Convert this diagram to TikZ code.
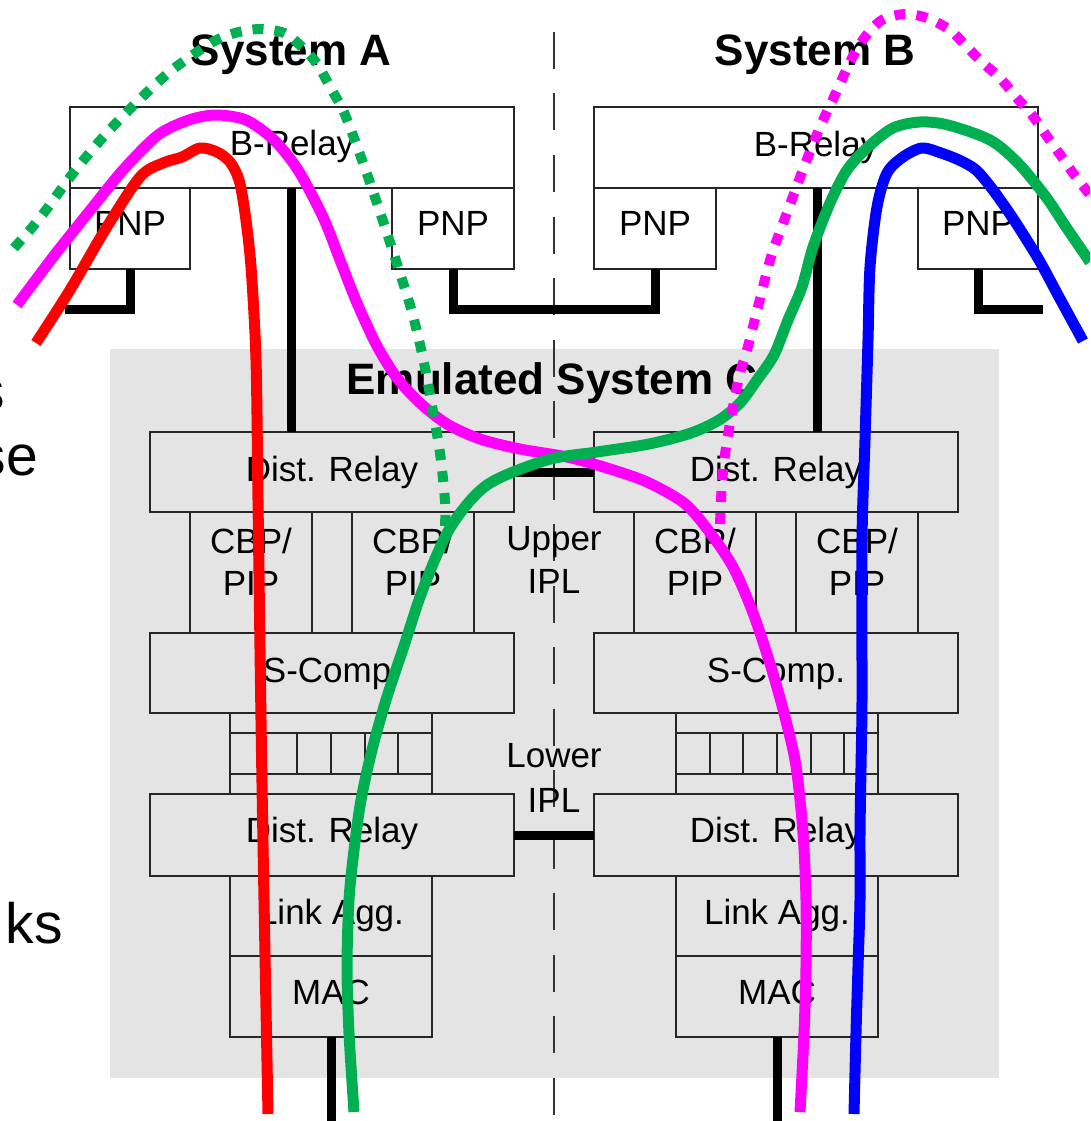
\documentclass[tikz,border=0pt]{standalone}
\usepackage{fontspec}
\setmainfont{Liberation Sans}
\definecolor{bggray}{RGB}{228,228,228}
\definecolor{pgreen}{RGB}{0,176,80}
\definecolor{pmag}{RGB}{255,0,255}
\definecolor{pred}{RGB}{255,0,0}
\definecolor{pblue}{RGB}{0,0,255}
\tikzset{
  box/.style={draw=black!85, line width=1.8pt, inner sep=0pt, outer sep=0pt, rectangle},
  boxline/.style={draw=black!85, line width=1.8pt},
  lbl/.style={anchor=base, inner sep=0pt, font=\fontsize{35}{42}\selectfont},
  ttl/.style={anchor=base, inner sep=0pt, font=\fontsize{44}{52}\selectfont\bfseries},
  sidetxt/.style={anchor=base east, inner sep=0pt, font=\fontsize{57}{68}\selectfont},
  heavylink/.style={line width=9pt, black, line join=miter},
  trail/.style={line width=11pt, line join=round},
  dotted trail/.style={line width=10pt, dash pattern=on 11pt off 11pt},
  centerline/.style={line width=2pt, black!80, dash pattern=on 37pt off 24.5pt},
}
\begin{document}
\begin{tikzpicture}[x=1pt,y=-1pt]
\useasboundingbox (0,0) rectangle (1090,1121);
\clip (0,0) rectangle (1090,1121);

% background of emulated system
\node[fill=bggray, inner sep=0pt, outer sep=0pt, minimum width=889pt, minimum height=729pt] (emu) at (554,713.5) {};

% centre dashed line
\coordinate (cTop) at (554,32);
\coordinate (cBot) at (554,1117);
\draw[centerline] (cTop) -- (cBot);

% ---------- System A ----------
\node[box, minimum width=444pt, minimum height=81pt] (brA) at (292,147.5) {};
\node[box, minimum width=120pt, minimum height=81pt] (pnpA1) at (130,228.5) {};
\node[box, minimum width=122pt, minimum height=81pt] (pnpA2) at (453,228.5) {};
% ---------- System B ----------
\node[box, minimum width=444pt, minimum height=81pt] (brB) at (816,147.5) {};
\node[box, minimum width=122pt, minimum height=81pt] (pnpB1) at (655,228.5) {};
\node[box, minimum width=120pt, minimum height=81pt] (pnpB2) at (978,228.5) {};

% ---------- Emulated system, left ----------
\node[box, minimum width=364pt, minimum height=80pt] (drA1) at (332,472) {};
\node[box, minimum width=122pt, minimum height=121pt] (cbpA1) at (251,572.5) {};
\node[box, minimum width=122pt, minimum height=121pt] (cbpA2) at (413,572.5) {};
\node[box, minimum width=364pt, minimum height=80pt] (scA) at (332,673) {};
\foreach \i in {0,...,5}
  \node[box, minimum width=33.67pt, minimum height=41pt] (qA\i) at ({230+33.67*\i+16.83},753.5) {};
\node[box, minimum width=364pt, minimum height=82pt] (drA2) at (332,835) {};
\node[box, minimum width=202pt, minimum height=80pt] (laA) at (331,916) {};
\node[box, minimum width=202pt, minimum height=81pt] (macA) at (331,996.5) {};
\draw[boxline] (qA0.north west) -- (qA0.north west |- scA.south);
\draw[boxline] (qA0.south west) -- (qA0.south west |- drA2.north);
\draw[boxline] (qA5.north east) -- (qA5.north east |- scA.south);
\draw[boxline] (qA5.south east) -- (qA5.south east |- drA2.north);

% ---------- Emulated system, right ----------
\node[box, minimum width=364pt, minimum height=80pt] (drB1) at (776,472) {};
\node[box, minimum width=122pt, minimum height=121pt] (cbpB1) at (695,572.5) {};
\node[box, minimum width=122pt, minimum height=121pt] (cbpB2) at (857,572.5) {};
\node[box, minimum width=364pt, minimum height=80pt] (scB) at (776,673) {};
\foreach \i in {0,...,5}
  \node[box, minimum width=33.67pt, minimum height=41pt] (qB\i) at ({676+33.67*\i+16.83},753.5) {};
\node[box, minimum width=364pt, minimum height=82pt] (drB2) at (776,835) {};
\node[box, minimum width=202pt, minimum height=80pt] (laB) at (777,916) {};
\node[box, minimum width=202pt, minimum height=81pt] (macB) at (777,996.5) {};
\draw[boxline] (qB0.north west) -- (qB0.north west |- scB.south);
\draw[boxline] (qB0.south west) -- (qB0.south west |- drB2.north);
\draw[boxline] (qB5.north east) -- (qB5.north east |- scB.south);
\draw[boxline] (qB5.south east) -- (qB5.south east |- drB2.north);

% ---------- heavy links ----------
\coordinate (endA1) at (65,309.5);
\coordinate (endB2) at (1043,309.5);
\coordinate (botA) at (331,1125);
\coordinate (botB) at (777,1125);
\draw[heavylink] (pnpA1.south) |- (endA1);
\draw[heavylink] (pnpB2.south) |- (endB2);
\draw[heavylink] (pnpA2.south) -- ++(0,40.5) -| (pnpB1.south);
\draw[heavylink] (brA.south -| 291,0) -- (drA1.north -| 291,0);
\draw[heavylink] (brB.south -| 817,0) -- (drB1.north -| 817,0);
\draw[heavylink] (drA1.east) -- (drB1.west);
\draw[heavylink] (drA2.east) -- (drB2.west);
\draw[heavylink] (macA.south) -- (botA);
\draw[heavylink] (macB.south) -- (botB);

% ---------- texts ----------
\node[ttl] (tA) at (291,66) {System A};
\node[ttl] (tB) at (815,66) {System B};
\node[ttl] (tC) at (552,394) {Emulated System C};

\node[lbl] (lbrA) at (292,155) {B-Relay};
\node[lbl] (lbrB) at (816,156) {B-Relay};
\node[lbl] (lpA1) at (130,235) {PNP};
\node[lbl] (lpA2) at (453,235) {PNP};
\node[lbl] (lpB1) at (655,235) {PNP};
\node[lbl] (lpB2) at (978,235) {PNP};

\node[lbl] (ldrA1) at (332,481) {Dist. Relay};
\node[lbl] (ldrB1) at (776,481) {Dist. Relay};
\node[lbl] (lcA1a) at (251,553) {CBP/};
\node[lbl] (lcA1b) at (251,595) {PIP};
\node[lbl] (lcA2a) at (413,553) {CBP/};
\node[lbl] (lcA2b) at (413,595) {PIP};
\node[lbl] (lcB1a) at (695,553) {CBP/};
\node[lbl] (lcB1b) at (695,595) {PIP};
\node[lbl] (lcB2a) at (857,553) {CBP/};
\node[lbl] (lcB2b) at (857,595) {PIP};
\node[lbl] (lupa) at (554,550) {Upper};
\node[lbl] (lupb) at (554,593) {IPL};
\node[lbl] (lscA) at (332,682) {S-Comp.};
\node[lbl] (lscB) at (776,682) {S-Comp.};
\node[lbl] (llwa) at (554,767) {Lower};
\node[lbl] (llwb) at (554,812) {IPL};
\node[lbl] (ldrA2) at (332,842) {Dist. Relay};
\node[lbl] (ldrB2) at (776,842) {Dist. Relay};
\node[lbl] (llaA) at (331,924) {Link Agg.};
\node[lbl] (llaB) at (777,924) {Link Agg.};
\node[lbl] (lmA) at (331,1004) {MAC};
\node[lbl] (lmB) at (777,1004) {MAC};

\node[sidetxt] (s1) at (5,410) {s};
\node[sidetxt] (s2) at (38,475) {se};
\node[sidetxt] (s3) at (63,943) {ks};

% ---------- coloured paths ----------
\draw[trail, pmag] plot[smooth, tension=0.5] coordinates {
 (17,305) (53,257) (88,213) (123,170) (158,135) (189,120) (216,115) (246,120)
 (274,140) (298,170) (323,217) (340,260) (357,303) (377,346) (397,378)
 (420,403) (447,424) (480,439) (520,449) (567,457) (607,468) (647,482)
 (684,503) (708,530) (733,567) (753,613) (771,667) (785,717) (796,766)
 (803,833) (806,900) (806,967) (804,1033) (800,1112)};
\draw[trail, pred] plot[smooth, tension=0.5] coordinates {
 (36,343) (70,290) (105,230) (140,177) (163,163) (182,157) (200,148)
 (217,152) (230,162) (239,180) (245,213) (251,267) (256,360) (258,500)
 (261,720) (264,900) (268,1114)};
\draw[trail, pgreen] plot[smooth, tension=0.5] coordinates {
 (354,1112) (349,1033) (347,967) (349,900) (354,850) (361,800) (372,750)
 (386,700) (404,646) (423,589) (450,528) (487,485) (547,460) (597,452)
 (649,444) (691,433) (719,420) (740,403) (757,380) (774,355) (788,320)
 (802,287) (813,247) (830,203) (847,170) (868,147) (893,128) (920,122)
 (948,125) (990,140) (1018,163) (1046,197) (1066,227) (1090,262)};
\draw[trail, pblue] plot[smooth, tension=0.5] coordinates {
 (854,1114) (856,1033) (858,967) (860,900) (860,833) (861,767) (862,700)
 (862,540) (865,440) (868,340) (870,267) (877,207) (887,173) (903,157)
 (922,148) (941,153) (959,160) (976,170) (993,190) (1014,220) (1039,260)
 (1059,297) (1083,341)};
\draw[dotted trail, pgreen] plot[smooth, tension=0.5] coordinates {
 (14,248) (30,230) (46,210) (74,172) (105,135) (139,100) (172,70) (211,43)
 (235,33) (260,29) (284,33) (302,47) (318,65) (330,87) (342,108) (351,130)
 (367,174) (383,221) (398,267) (412,312) (423,358) (432,406) (440,453)
 (445,501) (445,528)};
\draw[dotted trail, pmag] plot[smooth, tension=0.5] coordinates {
 (720,524) (722,483) (726,447) (733,407) (740,373) (747,350) (759,303)
 (771,257) (788,210) (804,167) (820,127) (834,97) (851,60) (865,37)
 (882,20) (905,14) (927,18) (950,30) (967,47) (983,63) (1000,78)
 (1016,97) (1032,115) (1046,135) (1059,153) (1073,173) (1090,195)};
\end{tikzpicture}
\end{document}
